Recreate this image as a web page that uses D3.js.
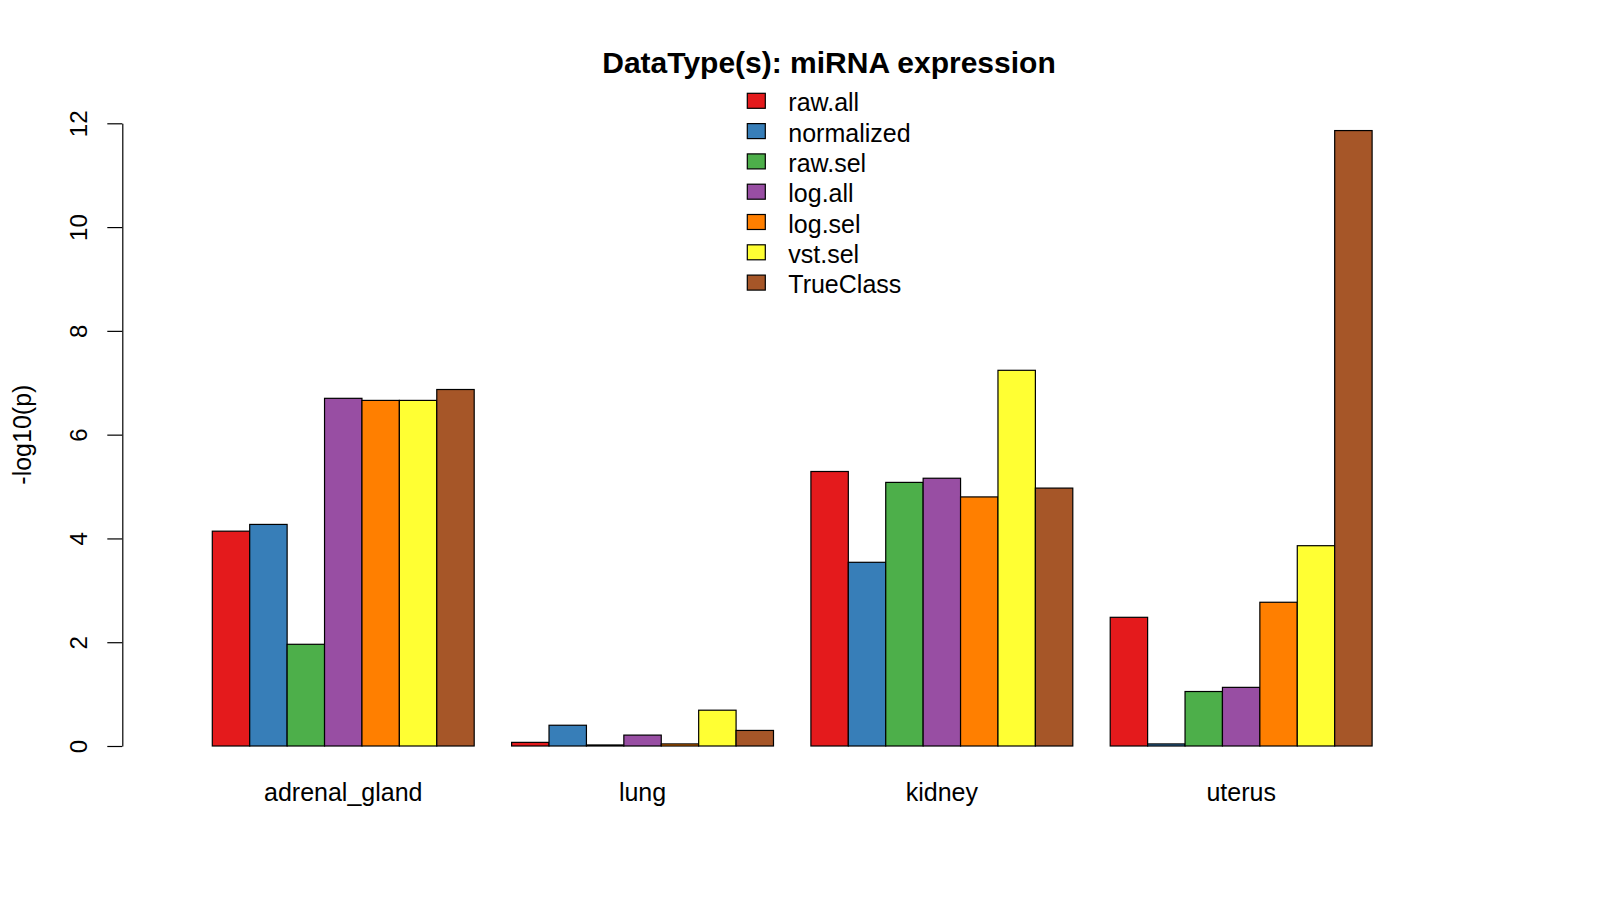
<!DOCTYPE html>
<html>
<head>
<meta charset="utf-8">
<script src="https://cdn.jsdelivr.net/npm/d3@7"></script>
<style>
  html, body { margin: 0; padding: 0; background: #ffffff; }
  svg { display: block; font-family: "Liberation Sans", Arial, sans-serif; }
</style>
</head>
<body>
<svg id="chart" width="1600" height="900"></svg>
<script>
const categories = ["adrenal_gland", "lung", "kidney", "uterus"];
const seriesNames = ["raw.all", "normalized", "raw.sel", "log.all", "log.sel", "vst.sel", "TrueClass"];
const seriesColors = ["#E41A1C", "#377EB8", "#4DAF4A", "#984EA3", "#FF7F00", "#FFFF33", "#A65628"];
// values per series, in category order
const rawAll     = [4.14, 0.07, 5.29, 2.48];
const normalized = [4.27, 0.40, 3.54, 0.04];
const rawSel     = [1.96, 0.02, 5.08, 1.05];
const logAll     = [6.70, 0.21, 5.16, 1.13];
const logSel     = [6.66, 0.04, 4.80, 2.77];
const vstSel     = [6.66, 0.69, 7.24, 3.86];
const trueClass  = [6.87, 0.30, 4.97, 11.86];
const yTicks = [0, 2, 4, 6, 8, 10, 12];
const titleText = "DataType(s): miRNA expression";
const yLabel = "-log10(p)";

const seriesValues = [rawAll, normalized, rawSel, logAll, logSel, vstSel, trueClass];

const svg = d3.select("#chart");

const y = d3.scaleLinear().domain([0, 12]).range([746, 123.3]);
const x0 = d3.scaleBand().domain(categories).range([212.3, 1372.1]).paddingInner(0.125).paddingOuter(0);
const x1 = d3.scaleBand().domain(seriesNames).range([0, x0.bandwidth()]).padding(0);
const color = d3.scaleOrdinal().domain(seriesNames).range(seriesColors);

// data table
const table = [];
categories.forEach((c, ci) => {
  seriesNames.forEach((s, si) => {
    table.push({ cat: c, series: s, value: seriesValues[si][ci] });
  });
});

// bars
svg.append("g")
  .selectAll("rect")
  .data(table)
  .join("rect")
  .attr("x", d => x0(d.cat) + x1(d.series))
  .attr("y", d => y(d.value))
  .attr("width", x1.bandwidth())
  .attr("height", d => y(0) - y(d.value))
  .attr("fill", d => color(d.series))
  .attr("stroke", "#000")
  .attr("stroke-width", 1.2);

// y axis
const axisX = 122.3;
const gAxis = svg.append("g")
  .attr("transform", `translate(${axisX},0)`)
  .call(d3.axisLeft(y).tickValues(yTicks).tickSize(15).tickSizeOuter(0).tickFormat(d3.format("d")));
gAxis.select(".domain").attr("stroke", "#000").attr("stroke-width", 1.2);
gAxis.selectAll(".tick line").attr("stroke", "#000").attr("stroke-width", 1.2);
gAxis.selectAll(".tick text")
  .attr("transform", "rotate(-90)")
  .attr("x", 0)
  .attr("y", -(axisX - 87))
  .attr("dy", 0)
  .attr("text-anchor", "middle")
  .attr("fill", "#000")
  .style("font-size", "24px")
  .style("font-family", "'Liberation Sans', Arial, sans-serif");

// y label
svg.append("text")
  .attr("transform", `translate(31,${(y(0) + y(12)) / 2}) rotate(-90)`)
  .attr("text-anchor", "middle")
  .style("font-size", "25px")
  .attr("fill", "#000")
  .text(yLabel);

// category labels
svg.append("g")
  .selectAll("text")
  .data(categories)
  .join("text")
  .attr("x", d => x0(d) + x0.bandwidth() / 2)
  .attr("y", 801)
  .attr("text-anchor", "middle")
  .style("font-size", "25px")
  .attr("fill", "#000")
  .text(d => d);

// title
svg.append("text")
  .attr("x", 829)
  .attr("y", 73.3)
  .attr("text-anchor", "middle")
  .style("font-size", "30px")
  .style("font-weight", "bold")
  .attr("fill", "#000")
  .text(titleText);

// legend
const leg = svg.append("g");
const legRows = leg.selectAll("g")
  .data(seriesNames)
  .join("g")
  .attr("transform", (d, i) => `translate(747.3,${93.3 + i * 30.3})`);
legRows.append("rect")
  .attr("width", 18)
  .attr("height", 15)
  .attr("fill", d => color(d))
  .attr("stroke", "#000")
  .attr("stroke-width", 1.2);
legRows.append("text")
  .attr("x", 41)
  .attr("y", 18)
  .style("font-size", "25px")
  .attr("fill", "#000")
  .text(d => d);
</script>
</body>
</html>
